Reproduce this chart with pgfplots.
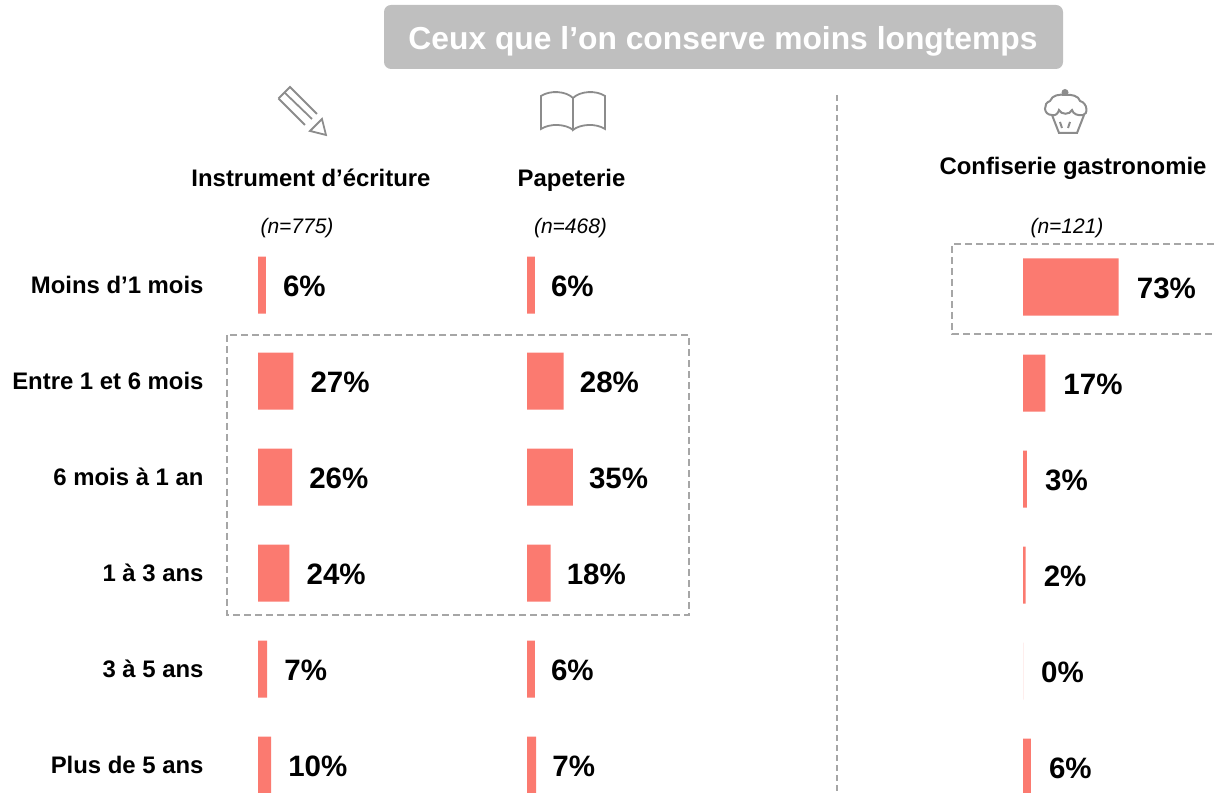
\documentclass[border=0pt]{standalone}
\usepackage{fontspec}
\setmainfont{Liberation Sans}
\usepackage{pgfplots}
\pgfplotsset{compat=1.18}
\definecolor{barcol}{HTML}{FB7A70}
\definecolor{icongray}{HTML}{8C8C8C}
\definecolor{dashgray}{HTML}{A6A6A6}
\definecolor{titlegray}{HTML}{BFBFBF}
\pgfplotsset{
  rows/.style={
    scale only axis, width=131pt, height=576pt,
    xmin=0, xmax=100, ymin=-0.5, ymax=5.5, y dir=reverse,
    anchor=north west, clip=false,
    xbar, bar width=57pt, bar shift=0pt,
    axis line style={draw=none}, tick style={draw=none},
    xtick=\empty, ytick={0,...,5}, yticklabels={},
    point meta=x,
    nodes near coords={\pgfmathprintnumber{\pgfplotspointmeta}\%},
    nodes near coords style={anchor=west, inner sep=0pt, xshift=17pt, yshift=-1pt, text=black,
      font=\fontsize{29.5}{32}\selectfont\bfseries,
      /pgf/number format/assume math mode=true},
  },
}
\newcommand{\hd}{\fontsize{23.9}{28}\selectfont\bfseries}
\newcommand{\nn}{\fontsize{21}{25}\selectfont\itshape}
\begin{document}
\begin{tikzpicture}
\path[use as bounding box] (0pt,0pt) rectangle (1214pt,792pt);
\clip (0pt,0pt) rectangle (1214pt,792pt);

\begin{axis}[rows, at={(258pt,555pt)},
  yticklabels={Moins d’1 mois,Entre 1 et 6 mois,6 mois à 1 an,1 à 3 ans,3 à 5 ans,Plus de 5 ans},
  yticklabel style={anchor=east, inner sep=0pt, xshift=-50pt, yshift=0.5pt, text=black, font=\hd}]
\addplot[fill=barcol, draw=none] coordinates {(6,0) (27,1) (26,2) (24,3) (7,4) (10,5)};
\end{axis}

\begin{axis}[rows, at={(527pt,555pt)}, nodes near coords style={xshift=-1pt}]
\addplot[fill=barcol, draw=none] coordinates {(6,0) (28,1) (35,2) (18,3) (6,4) (7,5)};
\end{axis}

\begin{axis}[rows, at={(1023pt,553pt)}, nodes near coords style={xshift=1pt}]
\addplot[fill=barcol, draw=none] coordinates {(73,0) (17,1) (3,2) (2,3) (0,4) (6,5)};
\end{axis}

\begin{scope}[x=1pt, y=-1pt, shift={(0pt,792pt)}]
  % title banner
  \fill[titlegray, rounded corners=7pt] (384,5) rectangle (1063,69);
  \node[text=white, font=\fontsize{31.8}{34}\selectfont\bfseries] at (723,41) {Ceux que l’on conserve moins longtemps};

  % column heads
  \node[font=\hd, anchor=base, inner sep=0pt] at (311,187) {Instrument d’écriture};
  \node[font=\hd, anchor=base, inner sep=0pt] at (571.5,187) {Papeterie};
  \node[font=\hd, anchor=base, inner sep=0pt] at (1073,175) {Confiserie gastronomie};
  \node[font=\nn] at (297,228) {(n=775)};
  \node[font=\nn] at (570.5,228) {(n=468)};
  \node[font=\nn] at (1067,228) {(n=121)};

  % dashed frames and separator
  \draw[dashgray, line width=1.5pt, dash pattern=on 7pt off 4pt] (227,335) rectangle (689,615);
  \draw[dashgray, line width=1.5pt, dash pattern=on 7pt off 4pt] (1225,244) -- (952,244) -- (952,334) -- (1225,334);
  \draw[dashgray, line width=1.5pt, dash pattern=on 6pt off 4pt] (837,95) -- (837,792);

  % pencil
  \begin{scope}[icongray, line width=1.8pt]
    \draw (278.5,98.5) -- (290,87) -- (317,114);
    \draw (284.5,92.5) -- (312,119);
    \draw (278.5,98.5) -- (305,125);
    \draw[line join=miter] (322,119) -- (326,135) -- (310,131) -- cycle;
  \end{scope}

  % book
  \begin{scope}[icongray, line width=1.8pt]
    \draw (573,98) .. controls (566,91) and (550,90) .. (541,96) -- (541,129) .. controls (550,123) and (566,124) .. (573,130);
    \draw (573,98) .. controls (580,91) and (596,90) .. (605,96) -- (605,129) .. controls (596,123) and (580,124) .. (573,130) -- cycle;
  \end{scope}

  % cupcake
  \begin{scope}[icongray, line width=2pt]
    \fill (1065,92.5) circle (3.5);
    \draw (1052,115) -- (1059,133) -- (1077,133) -- (1084,115);
    \draw (1052,115) .. controls (1043,115) and (1043,103) .. (1050,101)
      .. controls (1052,95) and (1060,94) .. (1065,95)
      .. controls (1071,94) and (1079,96) .. (1080,101)
      .. controls (1088,103) and (1088,115) .. (1083,115)
      .. controls (1078,116) and (1073,114) .. (1072,110)
      .. controls (1070,115) and (1061,115) .. (1059,110)
      .. controls (1058,114) and (1055,116) .. (1052,115) -- cycle;
    \draw (1060,122) -- (1062,128);
    \draw (1070,122) -- (1068,128);
  \end{scope}
\end{scope}
\end{tikzpicture}
\end{document}
